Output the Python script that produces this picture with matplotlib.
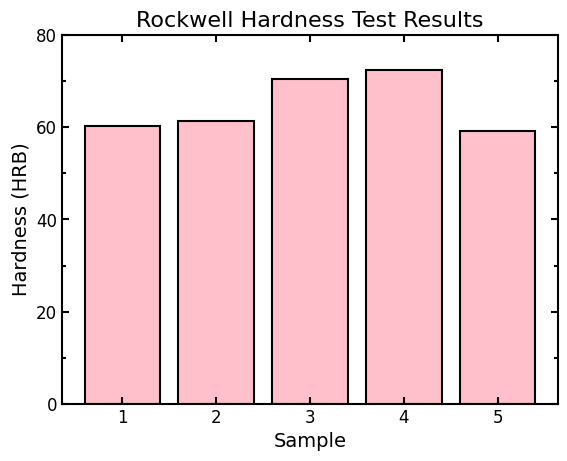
import matplotlib
matplotlib.use('Agg')
import matplotlib.pyplot as plt
from matplotlib.ticker import MultipleLocator

# Dados do ensaio
amostras = [1, 2, 3, 4, 5]
dureza = [60.3, 61.4, 70.5, 72.4, 59.2]

fig = plt.figure(figsize=(5.67, 4.61), dpi=100)
ax = fig.add_axes([62 / 567, 57 / 461, 496 / 567, 369 / 461])

ax.bar(amostras, dureza, color='pink', edgecolor='black', linewidth=1.5)

ax.set_title('Rockwell Hardness Test Results', fontsize=16)
ax.set_xlabel('Sample', fontsize=14)
ax.set_ylabel('Hardness (HRB)', fontsize=14)
ax.set_ylim(0, 80)
ax.set_xticks(amostras)
ax.yaxis.set_major_locator(MultipleLocator(20))
ax.yaxis.set_minor_locator(MultipleLocator(10))

ax.tick_params(which='both', direction='in', top=True, right=True, labelsize=12, width=1.5)
ax.tick_params(which='major', length=5)
ax.tick_params(which='minor', length=3)
for s in ax.spines.values():
    s.set_linewidth(1.5)

fig.savefig('out.png', dpi=100)
